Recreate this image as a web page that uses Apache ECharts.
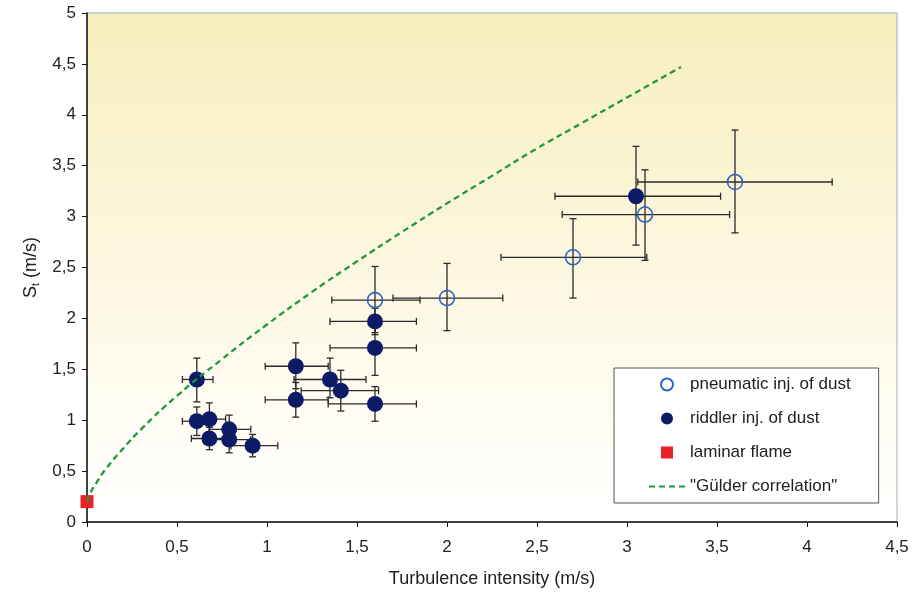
<!DOCTYPE html>
<html>
<head>
<meta charset="utf-8">
<script src="https://cdn.jsdelivr.net/npm/echarts@6/dist/echarts.min.js"></script>
<style>html,body{margin:0;padding:0;background:#fff}#c{width:912px;height:595px}</style>
</head>
<body>
<div id="c"></div>
<script>
// ---- data ----
// pneumatic injection of dust
var pneumaticX = [1.60, 2.00, 2.70, 3.10, 3.60];
var pneumaticY = [2.18, 2.20, 2.60, 3.02, 3.34];
var pneumaticXLow = [1.36, 1.70, 2.30, 2.64, 3.06];
var pneumaticXHigh = [1.85, 2.31, 3.11, 3.57, 4.14];
var pneumaticYLow = [1.86, 1.88, 2.20, 2.57, 2.84];
var pneumaticYHigh = [2.51, 2.54, 2.98, 3.46, 3.85];

// riddler injection of dust
var riddlerX = [3.05, 1.60, 1.60, 1.16, 1.35, 1.41, 1.16, 1.60, 0.61, 0.61, 0.68, 0.79, 0.68, 0.79, 0.92];
var riddlerY = [3.20, 1.97, 1.71, 1.53, 1.40, 1.29, 1.20, 1.16, 1.40, 0.99, 1.01, 0.91, 0.82, 0.81, 0.75];
var riddlerXLow = [2.60, 1.35, 1.35, 0.99, 1.15, 1.19, 0.99, 1.34, 0.53, 0.53, 0.58, 0.68, 0.58, 0.68, 0.80];
var riddlerXHigh = [3.52, 1.83, 1.83, 1.34, 1.55, 1.62, 1.34, 1.83, 0.70, 0.68, 0.77, 0.91, 0.79, 0.91, 1.06];
var riddlerYLow = [2.72, 1.84, 1.44, 1.31, 1.22, 1.09, 1.03, 0.99, 1.18, 0.85, 0.86, 0.79, 0.71, 0.68, 0.64];
var riddlerYHigh = [3.69, 2.10, 1.97, 1.76, 1.61, 1.49, 1.37, 1.33, 1.61, 1.13, 1.17, 1.05, 0.93, 0.93, 0.86];

// laminar flame
var laminarX = [0];
var laminarY = [0.2];

// Gülder correlation curve
var gulderX = [0, 0.02, 0.05, 0.1, 0.2, 0.3, 0.5, 0.75, 1.0, 1.25, 1.5, 1.75, 2.0, 2.25, 2.5, 2.75, 3.0, 3.3];
var gulderY = [0.20, 0.29, 0.38, 0.51, 0.72, 0.91, 1.24, 1.60, 1.94, 2.26, 2.56, 2.85, 3.13, 3.40, 3.67, 3.92, 4.17, 4.47];

var xTickLabels = ['0', '0,5', '1', '1,5', '2', '2,5', '3', '3,5', '4', '4,5'];
var yTickLabels = ['0', '0,5', '1', '1,5', '2', '2,5', '3', '3,5', '4', '4,5', '5'];

var seriesNames = ['pneumatic inj. of dust', 'riddler inj. of dust', 'laminar flame', '"Gülder correlation"'];

// ---- build ----
function rows(xs, ys, xl, xh, yl, yh) {
  return xs.map(function (x, i) { return [x, ys[i], xl[i], xh[i], yl[i], yh[i]]; });
}
function pts(xs, ys) { return xs.map(function (x, i) { return [x, ys[i]]; }); }
var errData = rows(pneumaticX, pneumaticY, pneumaticXLow, pneumaticXHigh, pneumaticYLow, pneumaticYHigh)
  .concat(rows(riddlerX, riddlerY, riddlerXLow, riddlerXHigh, riddlerYLow, riddlerYHigh));

function fmtTick(list) {
  return function (v) { var i = Math.round(v / 0.5); return list[i] !== undefined ? list[i] : ''; };
}

var FONT = 'Liberation Sans, Arial, sans-serif';
var SQUARE = 'path://M0,0L10,0L10,10L0,10Z';
var chart = echarts.init(document.getElementById('c'), null, { renderer: 'canvas' });
chart.setOption({
  animation: false,
  backgroundColor: '#ffffff',
  textStyle: { fontFamily: FONT },
  grid: {
    left: 87, right: 15, top: 13, bottom: 73,
    show: true,
    borderColor: '#9db1b4', borderWidth: 1,
    backgroundColor: new echarts.graphic.LinearGradient(0, 0, 0, 1, [
      { offset: 0, color: '#f7eebd' },
      { offset: 0.75, color: '#fffcf1' },
      { offset: 1, color: '#ffffff' }
    ])
  },
  xAxis: {
    type: 'value', min: 0, max: 4.5, interval: 0.5,
    name: 'Turbulence intensity (m/s)', nameLocation: 'middle', nameGap: 48,
    nameTextStyle: { fontSize: 18, color: '#222', fontFamily: FONT },
    axisLine: { show: true, onZero: false, lineStyle: { color: '#111', width: 1.5 } },
    axisTick: { show: true, inside: false, length: 5, lineStyle: { color: '#111' } },
    axisLabel: { fontSize: 17, color: '#222', margin: 17, formatter: fmtTick(xTickLabels) },
    splitLine: { show: false }
  },
  yAxis: {
    type: 'value', min: 0, max: 5, interval: 0.5,
    name: '{a|S}{b|t}{a| (m/s)}', nameLocation: 'middle', nameGap: 44,
    nameTextStyle: {
      color: '#222', fontFamily: FONT,
      rich: {
        a: { fontSize: 18, color: '#222', fontFamily: FONT },
        b: { fontSize: 11, color: '#222', fontFamily: FONT, padding: [9, 0, 0, 0] }
      }
    },
    axisLine: { show: true, onZero: false, lineStyle: { color: '#111', width: 1.5 } },
    axisTick: { show: true, inside: false, length: 5, lineStyle: { color: '#111' } },
    axisLabel: { fontSize: 17, color: '#222', margin: 11, formatter: fmtTick(yTickLabels) },
    splitLine: { show: false }
  },
  legend: {
    orient: 'vertical', left: 614, top: 368,
    backgroundColor: 'rgba(255,255,255,0.92)',
    borderColor: '#555', borderWidth: 1,
    padding: [8, 28, 8, 34],
    itemGap: 17, itemWidth: 36, itemHeight: 12,
    textStyle: { fontSize: 17, color: '#222', fontFamily: FONT },
    data: [
      { name: seriesNames[0] },
      { name: seriesNames[1] },
      { name: seriesNames[2], icon: SQUARE },
      { name: seriesNames[3] }
    ]
  },
  series: [
    {
      type: 'custom', name: 'errors', z: 1, silent: true,
      data: errData,
      encode: { x: 0, y: 1 },
      renderItem: function (params, api) {
        var c = api.coord([api.value(0), api.value(1)]);
        var l = api.coord([api.value(2), api.value(1)]);
        var r = api.coord([api.value(3), api.value(1)]);
        var b = api.coord([api.value(0), api.value(4)]);
        var t = api.coord([api.value(0), api.value(5)]);
        var cap = 3.5;
        var st = { stroke: '#2a2a2a', lineWidth: 1.3 };
        return {
          type: 'group',
          children: [
            { type: 'line', shape: { x1: l[0], y1: c[1], x2: r[0], y2: c[1] }, style: st },
            { type: 'line', shape: { x1: l[0], y1: c[1] - cap, x2: l[0], y2: c[1] + cap }, style: st },
            { type: 'line', shape: { x1: r[0], y1: c[1] - cap, x2: r[0], y2: c[1] + cap }, style: st },
            { type: 'line', shape: { x1: c[0], y1: b[1], x2: c[0], y2: t[1] }, style: st },
            { type: 'line', shape: { x1: c[0] - cap, y1: b[1], x2: c[0] + cap, y2: b[1] }, style: st },
            { type: 'line', shape: { x1: c[0] - cap, y1: t[1], x2: c[0] + cap, y2: t[1] }, style: st }
          ]
        };
      }
    },
    {
      type: 'scatter', name: seriesNames[0], z: 3,
      symbol: 'circle', symbolSize: 15,
      itemStyle: { color: 'rgba(255,255,255,0)', borderColor: '#2f63c6', borderWidth: 1.6, opacity: 1 },
      data: pts(pneumaticX, pneumaticY)
    },
    {
      type: 'scatter', name: seriesNames[1], z: 3,
      symbol: 'circle', symbolSize: 16,
      itemStyle: { color: '#0d1a66', opacity: 1 },
      data: pts(riddlerX, riddlerY)
    },
    {
      type: 'scatter', name: seriesNames[2], z: 4,
      symbol: 'rect', symbolSize: 13,
      itemStyle: { color: '#e8212b', opacity: 1 },
      data: pts(laminarX, laminarY)
    },
    {
      type: 'line', name: seriesNames[3], z: 5,
      symbol: 'none', smooth: true,
      lineStyle: { color: '#1e9a3e', width: 2.3, type: [6, 4] },
      itemStyle: { color: 'rgba(0,0,0,0)', borderWidth: 0 },
      data: pts(gulderX, gulderY)
    }
  ]
});
</script>
</body>
</html>
